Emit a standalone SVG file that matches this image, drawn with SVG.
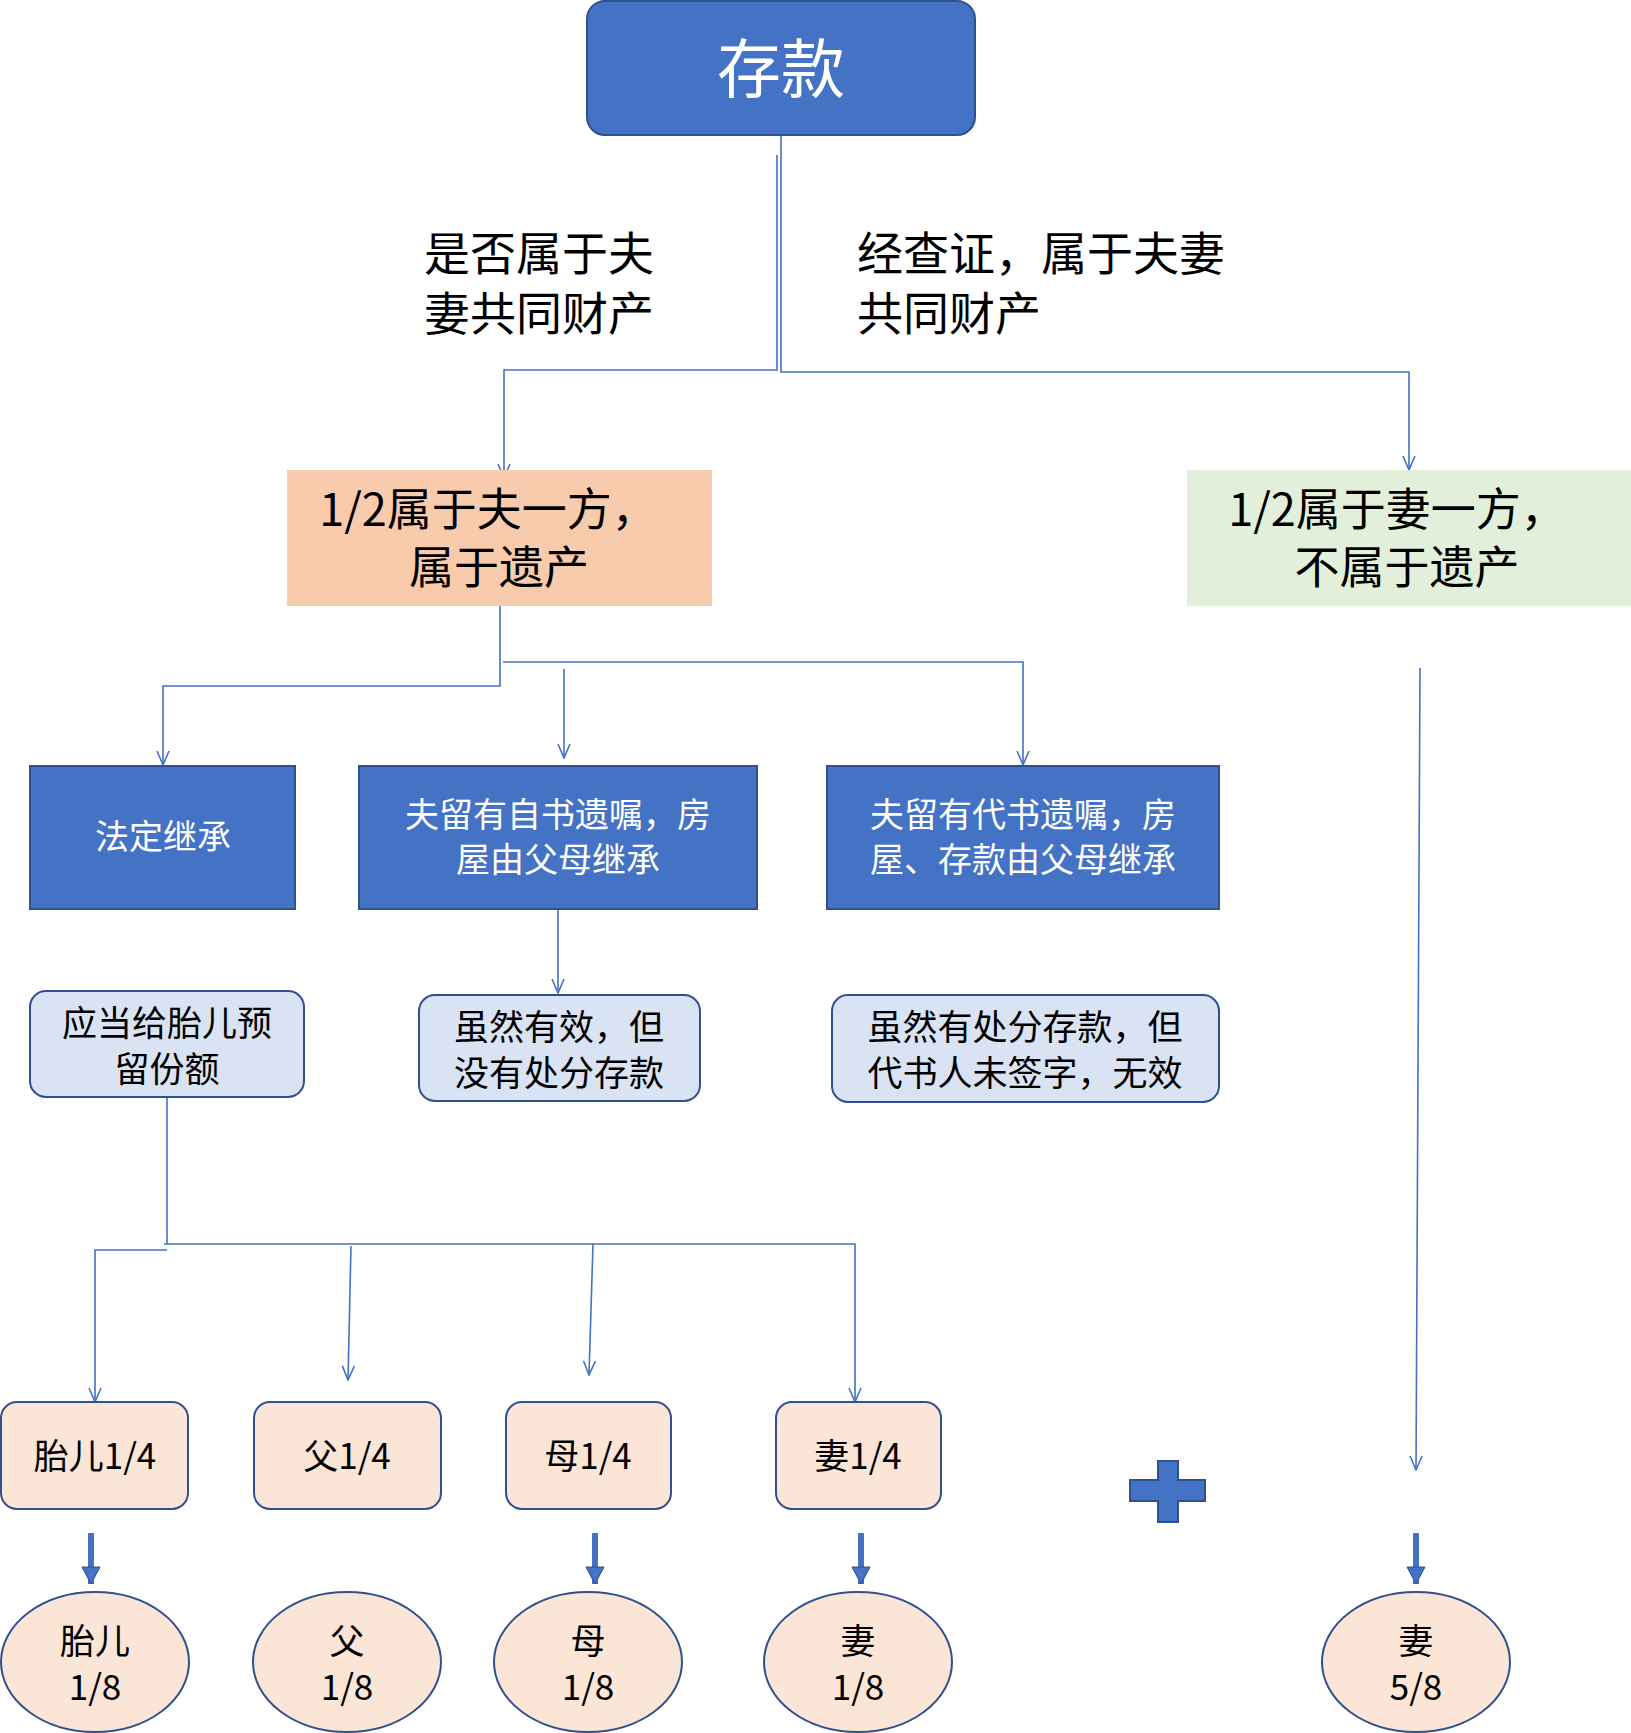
<svg xmlns="http://www.w3.org/2000/svg" width="1631" height="1733" viewBox="0 0 1631 1733">
<style>
text{font-family:"Noto Sans CJK SC","Liberation Sans",sans-serif;text-anchor:middle;dominant-baseline:central}
.c{fill:none;stroke:#4472C4;stroke-width:1.6}
.b{fill:#4472C4;stroke:#2F528F;stroke-width:2}
.l{fill:#DAE3F3;stroke:#2F528F;stroke-width:2}
.p{fill:#FBE5D6;stroke:#2F528F;stroke-width:2}
.w{fill:#fff;font-size:34px}
.k{fill:#000;font-size:35px}
.t{fill:#000;font-size:46px;text-anchor:start}
.h{fill:#000;font-size:45px}
</style>
<defs>
<marker id="a" markerWidth="16" markerHeight="16" refX="15" refY="8" orient="auto" markerUnits="userSpaceOnUse" viewBox="0 0 16 16"><path d="M1,2 L15,8 L1,14" fill="none" stroke="#4472C4" stroke-width="1.6"/></marker>
<marker id="m" viewBox="0 0 20 20" markerWidth="20" markerHeight="20" refX="19" refY="10" orient="auto" markerUnits="userSpaceOnUse"><path d="M2,1 L2,19 L19,10 Z" fill="#4472C4" stroke="#2F528F"/></marker>
</defs>
<g id="connectors">
<path class="c" d="M781,135 V372 H1409 V470" marker-end="url(#a)"/>
<path class="c" d="M777,155 V370 H504 V478" marker-end="url(#a)"/>
<path class="c" d="M500,606 V686 H163 V765" marker-end="url(#a)"/>
<path class="c" d="M503,662 H1023 V765" marker-end="url(#a)"/>
<path class="c" d="M564,669 V758" marker-end="url(#a)"/>
<path class="c" d="M558,909 V993" marker-end="url(#a)"/>
<path class="c" d="M167,1097 V1244"/>
<path class="c" d="M164,1244 H855 V1402" marker-end="url(#a)"/>
<path class="c" d="M167,1250 H95 V1402" marker-end="url(#a)"/>
<path class="c" d="M351,1246 L348,1380" marker-end="url(#a)"/>
<path class="c" d="M593,1244 L589,1375" marker-end="url(#a)"/>
<path class="c" d="M1420,668 L1416,1470" marker-end="url(#a)"/>
<g stroke="#4472C4" stroke-width="6">
<path d="M91,1533 V1584" marker-end="url(#m)"/>
<path d="M595,1533 V1584" marker-end="url(#m)"/>
<path d="M861,1533 V1584" marker-end="url(#m)"/>
<path d="M1416,1533 V1584" marker-end="url(#m)"/>
</g>
</g>
<g id="n-top"><rect x="587" y="1" width="388" height="134" rx="18" class="b"/><text x="781" y="64" class="w" style="font-size:64px">存款</text></g>
<g id="lbl-left"><text x="424" y="250" class="t">是否属于夫</text><text x="424" y="310" class="t">妻共同财产</text></g>
<g id="lbl-right"><text x="857" y="250" class="t">经查证，属于夫妻</text><text x="857" y="310" class="t">共同财产</text></g>
<g id="n-husband"><rect x="287" y="470" width="425" height="136" fill="#F8CBAD"/><text x="488" y="506" class="h">1/2属于夫一方，</text><text x="499" y="564" class="h">属于遗产</text></g>
<g id="n-wife"><rect x="1187" y="470" width="444" height="136" fill="#E2EFDA"/><text x="1397" y="506" class="h">1/2属于妻一方，</text><text x="1407" y="564" class="h">不属于遗产</text></g>
<g id="n-legal"><rect x="30" y="766" width="265" height="143" class="b"/><text x="163" y="834" class="w">法定继承</text></g>
<g id="n-will1"><rect x="359" y="766" width="398" height="143" class="b"/><text x="558" y="812" class="w">夫留有自书遗嘱，房</text><text x="558" y="857" class="w">屋由父母继承</text></g>
<g id="n-will2"><rect x="827" y="766" width="392" height="143" class="b"/><text x="1023" y="812" class="w">夫留有代书遗嘱，房</text><text x="1023" y="857" class="w">屋、存款由父母继承</text></g>
<g id="n-reserve"><rect x="30" y="991" width="274" height="106" rx="16" class="l"/><text x="167" y="1020" class="k">应当给胎儿预</text><text x="167" y="1066" class="k">留份额</text></g>
<g id="n-valid"><rect x="419" y="995" width="281" height="106" rx="16" class="l"/><text x="559" y="1024" class="k">虽然有效，但</text><text x="559" y="1070" class="k">没有处分存款</text></g>
<g id="n-invalid"><rect x="832" y="995" width="387" height="107" rx="16" class="l"/><text x="1025" y="1024" class="k">虽然有处分存款，但</text><text x="1025" y="1070" class="k">代书人未签字，无效</text></g>
<g id="n-f14"><rect x="1" y="1402" width="187" height="107" rx="16" class="p"/><text x="95" y="1453" class="k">胎儿1/4</text></g>
<g id="n-d14"><rect x="254" y="1402" width="187" height="107" rx="16" class="p"/><text x="347" y="1453" class="k">父1/4</text></g>
<g id="n-m14"><rect x="506" y="1402" width="165" height="107" rx="16" class="p"/><text x="588" y="1453" class="k">母1/4</text></g>
<g id="n-w14"><rect x="776" y="1402" width="165" height="107" rx="16" class="p"/><text x="858" y="1453" class="k">妻1/4</text></g>
<g id="plus"><path d="M1158,1461 H1178 V1480 H1205 V1501 H1178 V1522 H1158 V1501 H1130 V1480 H1158 Z" fill="#4472C4" stroke="#2F528F" stroke-width="2"/></g>
<g id="n-f18"><ellipse cx="95" cy="1662" rx="94" ry="70" class="p"/><text x="95" y="1638" class="k">胎儿</text><text x="95" y="1684" class="k">1/8</text></g>
<g id="n-d18"><ellipse cx="347" cy="1662" rx="94" ry="70" class="p"/><text x="347" y="1638" class="k">父</text><text x="347" y="1684" class="k">1/8</text></g>
<g id="n-m18"><ellipse cx="588" cy="1662" rx="94" ry="70" class="p"/><text x="588" y="1638" class="k">母</text><text x="588" y="1684" class="k">1/8</text></g>
<g id="n-w18"><ellipse cx="858" cy="1662" rx="94" ry="70" class="p"/><text x="858" y="1638" class="k">妻</text><text x="858" y="1684" class="k">1/8</text></g>
<g id="n-w58"><ellipse cx="1416" cy="1662" rx="94" ry="70" class="p"/><text x="1416" y="1638" class="k">妻</text><text x="1416" y="1684" class="k">5/8</text></g>
</svg>
